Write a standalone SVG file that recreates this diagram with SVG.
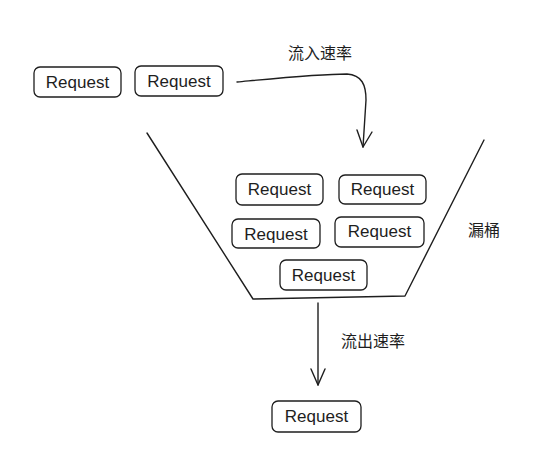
<svg xmlns="http://www.w3.org/2000/svg" width="555" height="452" viewBox="0 0 555 452">
<defs>
<style>
.box{fill:#ffffff;stroke:#1e1e1e;stroke-width:1.3}
.t{font-family:"Liberation Sans",Arial,sans-serif;font-size:17px;fill:#1e1e1e;text-anchor:middle;dominant-baseline:central}
.cj{font-family:"Noto Sans CJK SC",sans-serif;font-size:16px;fill:#1e1e1e;text-anchor:middle;dominant-baseline:central}
.ln{fill:none;stroke:#1e1e1e;stroke-width:1.4;stroke-linecap:round;stroke-linejoin:round}
</style>
</defs>
<rect width="555" height="452" fill="#ffffff"/>
<g id="funnel">
<path class="ln" d="M147,133 L253,299 L405,296 L484,140"/>
</g>
<g id="req1"><rect class="box" x="34" y="67" width="87" height="30" rx="6"/><text class="t" x="77.5" y="82">Request</text></g>
<g id="req2"><rect class="box" x="135" y="66" width="88" height="30" rx="6"/><text class="t" x="179" y="81">Request</text></g>
<g id="req3"><rect class="box" x="236" y="174" width="87" height="31" rx="6"/><text class="t" x="279.5" y="189">Request</text></g>
<g id="req4"><rect class="box" x="339" y="175" width="87" height="29" rx="6"/><text class="t" x="382.5" y="189">Request</text></g>
<g id="req5"><rect class="box" x="232" y="219" width="88" height="29" rx="6"/><text class="t" x="276" y="234">Request</text></g>
<g id="req6"><rect class="box" x="335" y="217" width="89" height="30" rx="6"/><text class="t" x="379.5" y="231">Request</text></g>
<g id="req7"><rect class="box" x="280" y="260" width="87" height="30" rx="6"/><text class="t" x="323.5" y="275">Request</text></g>
<g id="req8"><rect class="box" x="272" y="401" width="89" height="31" rx="6"/><text class="t" x="316.5" y="416">Request</text></g>
<g id="labels">
<text class="cj" x="320" y="52">流入速率</text>
<text class="cj" x="373" y="340">流出速率</text>
<text class="cj" x="484" y="229">漏桶</text>
</g>
<g id="connectors">
<path class="ln" d="M237,82 C280,78 320,74 347,74 C362,75 366,85 366,100 L363,147"/>
<path class="ln" d="M357,130 L363,147 L372,132"/>
<path class="ln" d="M318,303 L318,385"/>
<path class="ln" d="M311,369 L318,385 L325,369"/>
</g>
</svg>
